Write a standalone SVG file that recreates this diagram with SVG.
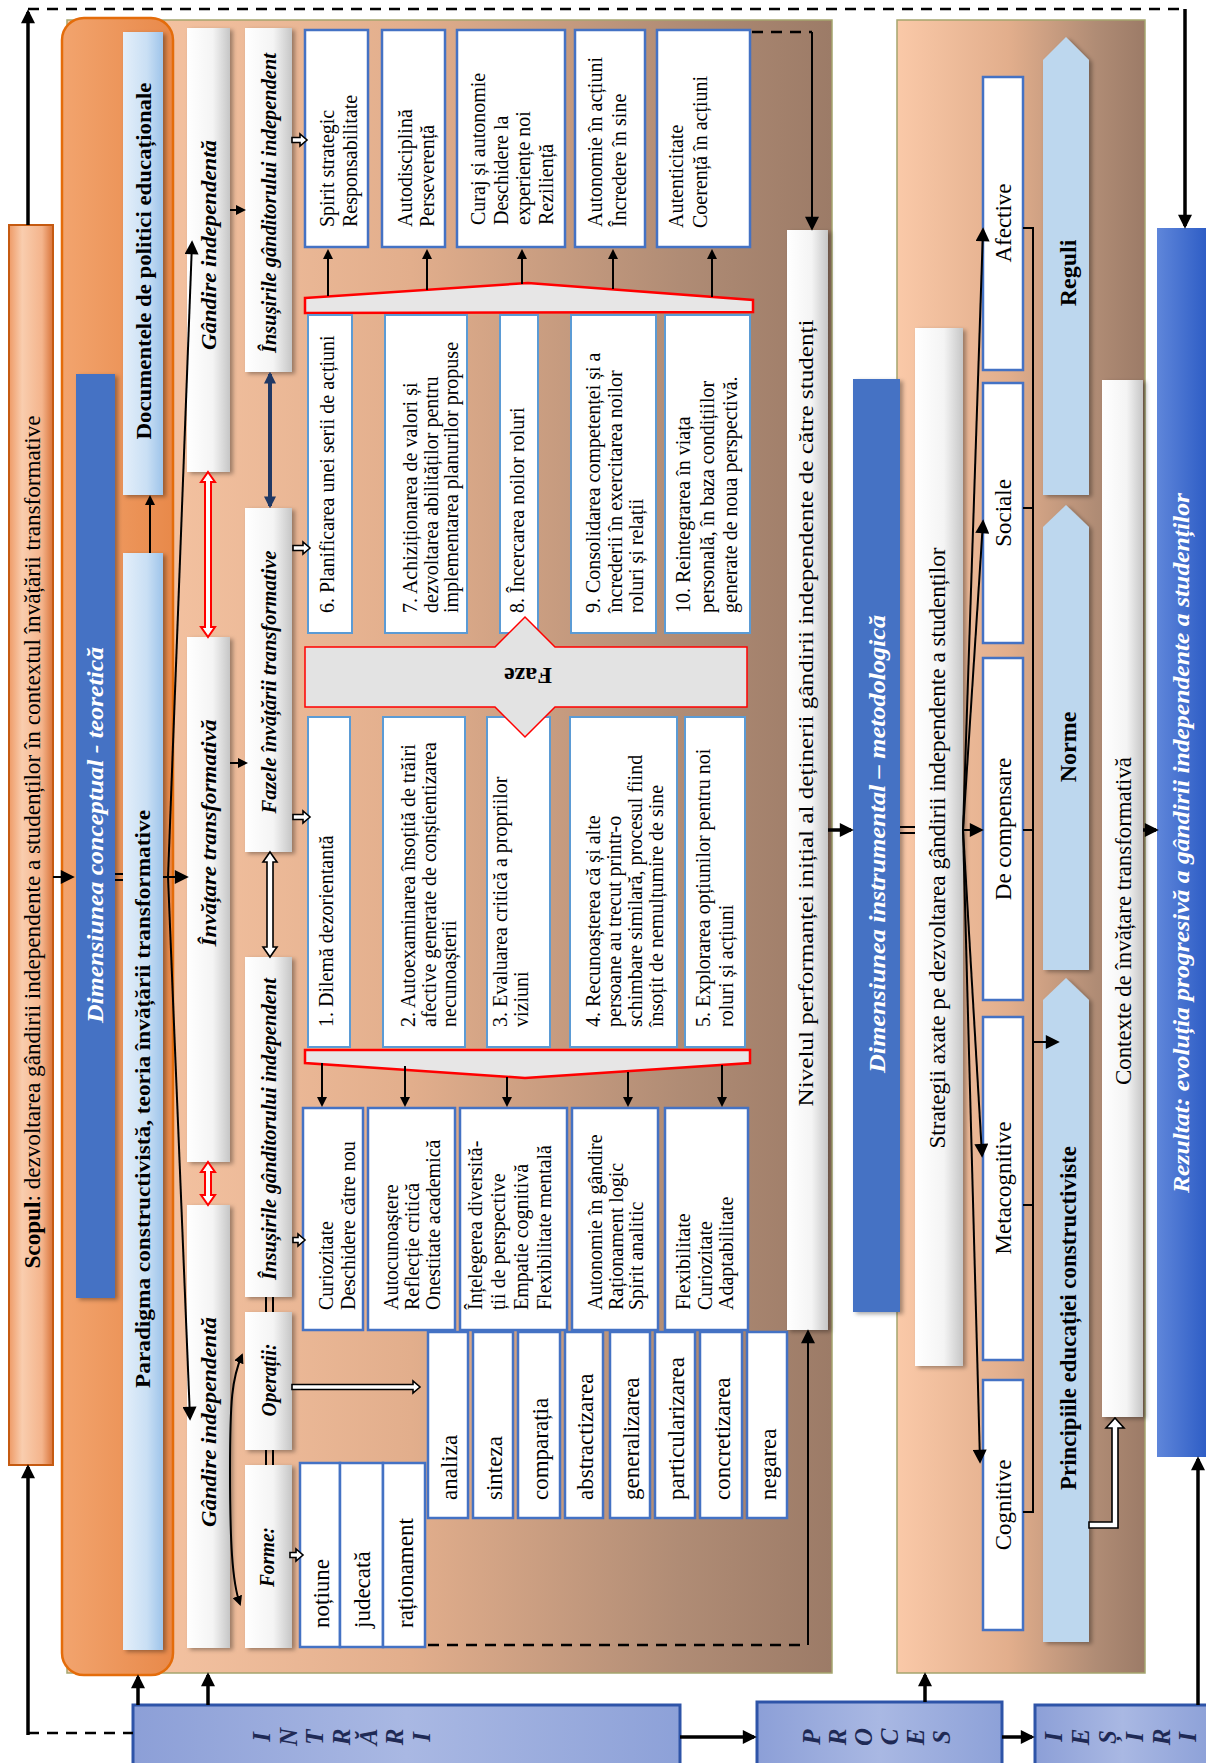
<svg xmlns="http://www.w3.org/2000/svg" width="1206" height="1763" viewBox="0 0 1206 1763">
<style>
.sf{font-family:"Liberation Serif","Times New Roman",serif;fill:#000}
.t20{font-size:20px}
.t22{font-size:22px}
.t23{font-size:23px}
.hb{font-weight:bold;font-style:italic;font-size:20px}
.bd{font-weight:bold}
.wt{fill:#fff;font-weight:bold;font-style:italic}
.io{font-weight:bold;font-style:italic;font-size:25px;fill:#1F2A55}
.ln{stroke:#000;stroke-width:2;fill:none}
.thk{stroke:#000;stroke-width:3.5;fill:none}
.dash{stroke:#000;stroke-width:2.5;stroke-dasharray:11 8;fill:none}
.bx{fill:#fff;stroke:#4472C4;stroke-width:2.5}
.pb{fill:#fff;stroke:#5B9BD5;stroke-width:2}
.wb{fill:url(#gWhite)}
.lb{fill:url(#gLBlue)}
.db{fill:#4472C4}
.rule{fill:#BDD7EE}
.ho{fill:#fff;stroke:#000;stroke-width:1.6}
.rd{fill:#fff;stroke:#FF0000;stroke-width:2}
.tr{fill:#E7E6E6;stroke:#FF0000;stroke-width:2.5}
.iob{fill:url(#gIO);stroke:#2E54A8;stroke-width:3}
</style>
<defs>
<linearGradient id="gPanel" x1="0" y1="0" x2="1" y2="0">
<stop offset="0" stop-color="#FAC9A8"/><stop offset="0.45" stop-color="#E2AE8C"/><stop offset="0.8" stop-color="#B08C75"/><stop offset="1" stop-color="#9C7B67"/>
</linearGradient>
<linearGradient id="gWhite" x1="0" y1="0" x2="1" y2="0">
<stop offset="0" stop-color="#FFFFFF"/><stop offset="0.6" stop-color="#F4F4F4"/><stop offset="1" stop-color="#C6C6C6"/>
</linearGradient>
<linearGradient id="gLBlue" x1="0" y1="0" x2="1" y2="0">
<stop offset="0" stop-color="#E4EFFA"/><stop offset="0.6" stop-color="#C9DFF4"/><stop offset="1" stop-color="#9EC4EA"/>
</linearGradient>
<linearGradient id="gScop" x1="0" y1="0" x2="1" y2="0">
<stop offset="0" stop-color="#EE9A66"/><stop offset="0.3" stop-color="#F9CDAE"/><stop offset="0.75" stop-color="#F4B48C"/><stop offset="1" stop-color="#D9743A"/>
</linearGradient>
<linearGradient id="gOrange" x1="0" y1="0" x2="1" y2="0">
<stop offset="0" stop-color="#F2A46E"/><stop offset="1" stop-color="#E8894A"/>
</linearGradient>
<linearGradient id="gIO" x1="0" y1="0" x2="1" y2="0">
<stop offset="0" stop-color="#8C9FD7"/><stop offset="0.5" stop-color="#A9B8E3"/><stop offset="1" stop-color="#8DA1D8"/>
</linearGradient>
<linearGradient id="gRez" x1="0" y1="0" x2="1" y2="0">
<stop offset="0" stop-color="#5F86DA"/><stop offset="1" stop-color="#2F5EC6"/>
</linearGradient>
<filter id="sh" x="-20%" y="-5%" width="150%" height="110%">
<feDropShadow dx="3" dy="2" stdDeviation="2" flood-color="#000" flood-opacity="0.35"/>
</filter>
<marker id="ma" viewBox="0 0 10 10" refX="8" refY="5" markerWidth="10" markerHeight="10" markerUnits="userSpaceOnUse" orient="auto-start-reverse">
<path d="M0,0 L10,5 L0,10 z" fill="#000"/>
</marker>
<marker id="mb" viewBox="0 0 10 10" refX="8" refY="5" markerWidth="15" markerHeight="14" markerUnits="userSpaceOnUse" orient="auto-start-reverse">
<path d="M0,0 L10,5 L0,10 z" fill="#000"/>
</marker>
<marker id="mn" viewBox="0 0 10 10" refX="8" refY="5" markerWidth="12" markerHeight="12" markerUnits="userSpaceOnUse" orient="auto-start-reverse">
<path d="M0,0 L10,5 L0,10 z" fill="#1F3864"/>
</marker>
</defs>

<rect width="1206" height="1763" fill="#fff"/>

<g id="panel-conceptual">
<rect x="67" y="20" width="765" height="1653" fill="url(#gPanel)" stroke="#A5A56E" stroke-width="1.5"/>
</g>
<g id="panel-instrumental">
<rect x="897" y="20" width="248" height="1653" fill="url(#gPanel)" stroke="#A5A56E" stroke-width="1.5"/>
</g>
<g id="orange-frame">
<rect x="62" y="18" width="111" height="1657" rx="22" fill="url(#gOrange)" stroke="#E46C0A" stroke-width="2.5"/>
</g>

<g id="node-scop">
<rect x="9" y="225" width="44" height="1240" fill="url(#gScop)" stroke="#C55A11" stroke-width="2"/>
<text class="sf t23" transform="translate(40,842) rotate(-90)" text-anchor="middle" textLength="853" lengthAdjust="spacingAndGlyphs"><tspan font-weight="bold">Scopul</tspan>: dezvoltarea gândirii independente a studenților în contextul învățării transformative</text>
</g>

<g id="node-dim-conceptual">
<rect x="76" y="374" width="39" height="924" class="db" filter="url(#sh)"/>
<text class="sf wt" font-size="24" transform="translate(103,835) rotate(-90)" text-anchor="middle" textLength="376" lengthAdjust="spacingAndGlyphs">Dimensiunea conceptual - teoretică</text>
</g>

<g id="node-documente">
<rect x="123" y="32" width="40" height="463" class="lb" filter="url(#sh)"/>
<text class="sf bd t22" transform="translate(151,261) rotate(-90)" text-anchor="middle" textLength="357" lengthAdjust="spacingAndGlyphs">Documentele de politici educaționale</text>
</g>

<g id="node-paradigma">
<rect x="123" y="553" width="40" height="1097" class="lb" filter="url(#sh)"/>
<text class="sf bd t22" transform="translate(150,1099) rotate(-90)" text-anchor="middle" textLength="578" lengthAdjust="spacingAndGlyphs">Paradigma constructivistă,  teoria învățării transformative</text>
</g>

<g id="node-gandire-top">
<rect x="187" y="28" width="43" height="444" class="wb" filter="url(#sh)"/>
<text class="sf hb" transform="translate(216,245) rotate(-90)" text-anchor="middle" textLength="210" lengthAdjust="spacingAndGlyphs">Gândire independentă</text>
</g>
<g id="node-invatare">
<rect x="187" y="637" width="43" height="525" class="wb" filter="url(#sh)"/>
<text class="sf hb" transform="translate(216,833) rotate(-90)" text-anchor="middle" textLength="227" lengthAdjust="spacingAndGlyphs">Învățare transformativă</text>
</g>
<g id="node-gandire-bottom">
<rect x="187" y="1205" width="43" height="443" class="wb" filter="url(#sh)"/>
<text class="sf hb" transform="translate(216,1422) rotate(-90)" text-anchor="middle" textLength="210" lengthAdjust="spacingAndGlyphs">Gândire independentă</text>
</g>

<g id="node-insusiri-top">
<rect x="245" y="28" width="47" height="344" class="wb" filter="url(#sh)"/>
<text class="sf hb" transform="translate(276,203) rotate(-90)" text-anchor="middle" textLength="300" lengthAdjust="spacingAndGlyphs">Însușirile gânditorului independent</text>
</g>
<g id="node-fazele">
<rect x="245" y="508" width="47" height="344" class="wb" filter="url(#sh)"/>
<text class="sf hb" transform="translate(276,682) rotate(-90)" text-anchor="middle" textLength="263" lengthAdjust="spacingAndGlyphs">Fazele învățării transformative</text>
</g>
<g id="node-insusiri-bottom">
<rect x="245" y="957" width="47" height="340" class="wb" filter="url(#sh)"/>
<text class="sf hb" transform="translate(276,1129) rotate(-90)" text-anchor="middle" textLength="302" lengthAdjust="spacingAndGlyphs">Însușirile gânditorului independent</text>
</g>
<g id="node-operatii">
<rect x="245" y="1312" width="47" height="138" class="wb" filter="url(#sh)"/>
<text class="sf hb" transform="translate(276,1380) rotate(-90)" text-anchor="middle" textLength="73" lengthAdjust="spacingAndGlyphs">Operații:</text>
</g>
<g id="node-forme">
<rect x="245" y="1465" width="47" height="183" class="wb" filter="url(#sh)"/>
<text class="sf hb" transform="translate(274,1557) rotate(-90)" text-anchor="middle" textLength="60" lengthAdjust="spacingAndGlyphs">Forme:</text>
</g>

<g id="node-prop-t1"><rect x="305" y="30" width="63" height="217" class="bx"/>
<text class="sf t20" transform="translate(334,227) rotate(-90)"><tspan x="0">Spirit strategic</tspan><tspan x="0" dy="23">Responsabilitate</tspan></text></g>
<g id="node-prop-t2"><rect x="382" y="30" width="63" height="217" class="bx"/>
<text class="sf t20" transform="translate(412,227) rotate(-90)"><tspan x="0">Autodisciplină</tspan><tspan x="0" dy="22">Perseverență</tspan></text></g>
<g id="node-prop-t3"><rect x="457" y="30" width="108" height="217" class="bx"/>
<text class="sf t20" transform="translate(485,225) rotate(-90)"><tspan x="0">Curaj și autonomie</tspan><tspan x="0" dy="22.7">Deschidere la</tspan><tspan x="0" dy="22.7">experiențe noi</tspan><tspan x="0" dy="22.7">Reziliență</tspan></text></g>
<g id="node-prop-t4"><rect x="575" y="30" width="70" height="217" class="bx"/>
<text class="sf t20" transform="translate(602,227) rotate(-90)"><tspan x="0">Autonomie în acțiuni</tspan><tspan x="0" dy="24">Încredere în sine</tspan></text></g>
<g id="node-prop-t5"><rect x="657" y="30" width="93" height="217" class="bx"/>
<text class="sf t20" transform="translate(683,228) rotate(-90)"><tspan x="0">Autenticitate</tspan><tspan x="0" dy="24">Coerență în acțiuni</tspan></text></g>

<g id="node-trap-top"><polygon points="305,298 528,283 753,300 753,312 305,313" class="tr"/></g>

<g id="node-phase6"><rect x="308" y="315" width="44" height="318" class="pb"/>
<text class="sf t20" transform="translate(334,613) rotate(-90)">6. Planificarea unei serii de acțiuni</text></g>
<g id="node-phase7"><rect x="385" y="315" width="82" height="318" class="pb"/>
<text class="sf t20" transform="translate(417,613) rotate(-90)"><tspan x="0">7. Achiziționarea de valori și</tspan><tspan x="0" dy="20.5">dezvoltarea abilităților pentru</tspan><tspan x="0" dy="20.5">implementarea planurilor propuse</tspan></text></g>
<g id="node-phase8"><rect x="500" y="315" width="38" height="318" class="pb"/>
<text class="sf t20" transform="translate(524,613) rotate(-90)">8. Încercarea noilor roluri</text></g>
<g id="node-phase9"><rect x="571" y="315" width="85" height="318" class="pb"/>
<text class="sf t20" transform="translate(600,613) rotate(-90)"><tspan x="0">9. Consolidarea competenței și a</tspan><tspan x="0" dy="21.5">încrederii în exercitarea noilor</tspan><tspan x="0" dy="21.5">roluri și relații</tspan></text></g>
<g id="node-phase10"><rect x="665" y="315" width="85" height="318" class="pb"/>
<text class="sf t20" transform="translate(690,613) rotate(-90)"><tspan x="0">10. Reintegrarea în viața</tspan><tspan x="0" dy="23.5">personală, în baza condițiilor</tspan><tspan x="0" dy="23.5">generate de noua perspectivă.</tspan></text></g>

<g id="node-phase1"><rect x="308" y="717" width="42" height="330" class="pb"/>
<text class="sf t20" transform="translate(333,1027) rotate(-90)">1. Dilemă dezorientantă</text></g>
<g id="node-phase2"><rect x="383" y="717" width="82" height="330" class="pb"/>
<text class="sf t20" transform="translate(415,1027) rotate(-90)"><tspan x="0">2. Autoexaminarea însoțită de trăiri</tspan><tspan x="0" dy="20.5">afective generate de conștientizarea</tspan><tspan x="0" dy="20.5">necunoașterii</tspan></text></g>
<g id="node-phase3"><rect x="487" y="717" width="63" height="330" class="pb"/>
<text class="sf t20" transform="translate(507,1027) rotate(-90)"><tspan x="0">3. Evaluarea critică a propriilor</tspan><tspan x="0" dy="21">viziuni</tspan></text></g>
<g id="node-phase4"><rect x="570" y="717" width="107" height="330" class="pb"/>
<text class="sf t20" transform="translate(600,1027) rotate(-90)"><tspan x="0">4. Recunoașterea că și alte</tspan><tspan x="0" dy="21">persoane au trecut printr-o</tspan><tspan x="0" dy="21">schimbare similară, procesul fiind</tspan><tspan x="0" dy="21">însoțit de nemulțumire de sine</tspan></text></g>
<g id="node-phase5"><rect x="685" y="717" width="60" height="330" class="pb"/>
<text class="sf t20" transform="translate(710,1027) rotate(-90)"><tspan x="0">5. Explorarea opțiunilor pentru noi</tspan><tspan x="0" dy="23">roluri și acțiuni</tspan></text></g>

<g id="node-faze">
<polygon points="305,647 495,647 525,617 555,647 747,647 747,707 555,707 525,737 495,707 305,707" fill="#E3E3E3" stroke="#FF0000" stroke-width="1.5"/>
<text class="sf bd" font-size="24" transform="translate(528,668) rotate(180)" text-anchor="middle">Faze</text>
</g>

<g id="node-trap-bottom"><polygon points="305,1050 750,1050 750,1063 525,1078 305,1063" class="tr"/></g>

<g id="node-prop-b1"><rect x="303" y="1108" width="60" height="222" class="bx"/>
<text class="sf t20" transform="translate(333,1310) rotate(-90)"><tspan x="0">Curiozitate</tspan><tspan x="0" dy="22">Deschidere către nou</tspan></text></g>
<g id="node-prop-b2"><rect x="368" y="1108" width="87" height="222" class="bx"/>
<text class="sf t20" transform="translate(398,1310) rotate(-90)"><tspan x="0">Autocunoaștere</tspan><tspan x="0" dy="21">Reflecție critică</tspan><tspan x="0" dy="21">Onestitate academică</tspan></text></g>
<g id="node-prop-b3"><rect x="460" y="1108" width="107" height="222" class="bx"/>
<text class="sf t20" transform="translate(482,1310) rotate(-90)"><tspan x="0">Înțelegerea diversită-</tspan><tspan x="0" dy="23">ții de perspective</tspan><tspan x="0" dy="23">Empatie cognitivă</tspan><tspan x="0" dy="23">Flexibilitate mentală</tspan></text></g>
<g id="node-prop-b4"><rect x="572" y="1108" width="86" height="222" class="bx"/>
<text class="sf t20" transform="translate(602,1310) rotate(-90)"><tspan x="0">Autonomie în gândire</tspan><tspan x="0" dy="20.5">Raționament logic</tspan><tspan x="0" dy="20.5">Spirit analitic</tspan></text></g>
<g id="node-prop-b5"><rect x="665" y="1108" width="83" height="222" class="bx"/>
<text class="sf t20" transform="translate(690,1310) rotate(-90)"><tspan x="0">Flexibilitate</tspan><tspan x="0" dy="21.5">Curiozitate</tspan><tspan x="0" dy="21.5">Adaptabilitate</tspan></text></g>

<g id="node-operations">
<rect x="428" y="1332" width="40" height="186" class="bx"/>
<rect x="473" y="1332" width="40" height="186" class="bx"/>
<rect x="518" y="1332" width="42" height="186" class="bx"/>
<rect x="565" y="1332" width="38" height="186" class="bx"/>
<rect x="610" y="1332" width="40" height="186" class="bx"/>
<rect x="655" y="1332" width="40" height="186" class="bx"/>
<rect x="700" y="1332" width="42" height="186" class="bx"/>
<rect x="747" y="1332" width="40" height="186" class="bx"/>
<text class="sf t23" transform="translate(457,1500) rotate(-90)">analiza</text>
<text class="sf t23" transform="translate(502,1500) rotate(-90)">sinteza</text>
<text class="sf t23" transform="translate(548,1500) rotate(-90)">comparația</text>
<text class="sf t23" transform="translate(593,1500) rotate(-90)">abstractizarea</text>
<text class="sf t23" transform="translate(639,1500) rotate(-90)">generalizarea</text>
<text class="sf t23" transform="translate(684,1500) rotate(-90)">particularizarea</text>
<text class="sf t23" transform="translate(730,1500) rotate(-90)">concretizarea</text>
<text class="sf t23" transform="translate(776,1500) rotate(-90)">negarea</text>
</g>

<g id="node-forms">
<rect x="300" y="1463" width="40" height="184" class="bx"/>
<rect x="340" y="1463" width="43" height="184" class="bx"/>
<rect x="383" y="1463" width="42" height="184" class="bx"/>
<text class="sf t23" transform="translate(329,1628) rotate(-90)">noțiune</text>
<text class="sf t23" transform="translate(370,1628) rotate(-90)">judecată</text>
<text class="sf t23" transform="translate(413,1628) rotate(-90)">raționament</text>
</g>

<g id="node-nivel">
<rect x="787" y="230" width="41" height="1100" class="wb" filter="url(#sh)"/>
<text class="sf t22" transform="translate(813,713) rotate(-90)" text-anchor="middle" textLength="787" lengthAdjust="spacingAndGlyphs">Nivelul performanței inițial al deținerii gândirii independente de către studenți</text>
</g>

<g id="node-dim-instrumental">
<rect x="853" y="379" width="47" height="933" class="db" filter="url(#sh)"/>
<text class="sf wt" font-size="24" transform="translate(885,844) rotate(-90)" text-anchor="middle" textLength="458" lengthAdjust="spacingAndGlyphs">Dimensiunea  instrumental – metodologică</text>
</g>
<g id="node-strategii">
<rect x="915" y="328" width="48" height="1038" class="wb" filter="url(#sh)"/>
<text class="sf t23" transform="translate(945,848) rotate(-90)" text-anchor="middle" textLength="601" lengthAdjust="spacingAndGlyphs">Strategii  axate pe dezvoltarea gândirii independente a studenților</text>
</g>
<g id="node-afective"><rect x="983" y="77" width="40" height="293" class="bx"/>
<text class="sf t23" transform="translate(1011,223) rotate(-90)" text-anchor="middle">Afective</text></g>
<g id="node-sociale"><rect x="983" y="383" width="40" height="260" class="bx"/>
<text class="sf t23" transform="translate(1011,513) rotate(-90)" text-anchor="middle">Sociale</text></g>
<g id="node-compensare"><rect x="983" y="658" width="40" height="342" class="bx"/>
<text class="sf t23" transform="translate(1011,829) rotate(-90)" text-anchor="middle">De compensare</text></g>
<g id="node-metacognitive"><rect x="983" y="1017" width="40" height="343" class="bx"/>
<text class="sf t23" transform="translate(1011,1188) rotate(-90)" text-anchor="middle">Metacognitive</text></g>
<g id="node-cognitive"><rect x="983" y="1380" width="40" height="250" class="bx"/>
<text class="sf t23" transform="translate(1011,1505) rotate(-90)" text-anchor="middle">Cognitive</text></g>

<g id="node-reguli">
<polygon points="1043,60 1066,37 1089,60 1089,495 1043,495" class="rule" filter="url(#sh)"/>
<text class="sf bd" font-size="24" transform="translate(1076,273) rotate(-90)" text-anchor="middle">Reguli</text>
</g>
<g id="node-norme">
<polygon points="1043,527 1066,505 1089,527 1089,970 1043,970" class="rule" filter="url(#sh)"/>
<text class="sf bd" font-size="24" transform="translate(1076,747) rotate(-90)" text-anchor="middle">Norme</text>
</g>
<g id="node-principii">
<polygon points="1043,1000 1066,978 1089,1000 1089,1642 1043,1642" class="rule" filter="url(#sh)"/>
<text class="sf bd t23" transform="translate(1076,1318) rotate(-90)" text-anchor="middle" textLength="344" lengthAdjust="spacingAndGlyphs">Principiile educației constructiviste</text>
</g>
<g id="node-contexte">
<rect x="1102" y="380" width="41" height="1037" class="wb" filter="url(#sh)"/>
<text class="sf t23" transform="translate(1131,921) rotate(-90)" text-anchor="middle" textLength="328" lengthAdjust="spacingAndGlyphs">Contexte de învățare transformativă</text>
</g>
<g id="node-rezultat">
<rect x="1157" y="228" width="49" height="1229" fill="url(#gRez)"/>
<text class="sf wt t23" transform="translate(1189,843) rotate(-90)" text-anchor="middle" textLength="700" lengthAdjust="spacingAndGlyphs">Rezultat: evoluția progresivă a gândirii independente a studenților</text>
</g>

<g id="node-intrari">
<rect x="133" y="1705" width="547" height="62" class="iob"/>
<text class="sf io" transform="translate(270,1737) rotate(-90)" text-anchor="middle">I</text>
<text class="sf io" transform="translate(297,1737) rotate(-90)" text-anchor="middle">N</text>
<text class="sf io" transform="translate(323,1737) rotate(-90)" text-anchor="middle">T</text>
<text class="sf io" transform="translate(350,1737) rotate(-90)" text-anchor="middle">R</text>
<text class="sf io" transform="translate(377,1737) rotate(-90)" text-anchor="middle">Ă</text>
<text class="sf io" transform="translate(403,1737) rotate(-90)" text-anchor="middle">R</text>
<text class="sf io" transform="translate(430,1737) rotate(-90)" text-anchor="middle">I</text>
</g>
<g id="node-proces">
<rect x="757" y="1702" width="245" height="65" class="iob"/>
<text class="sf io" transform="translate(820,1737) rotate(-90)" text-anchor="middle">P</text>
<text class="sf io" transform="translate(846,1737) rotate(-90)" text-anchor="middle">R</text>
<text class="sf io" transform="translate(872,1737) rotate(-90)" text-anchor="middle">O</text>
<text class="sf io" transform="translate(898,1737) rotate(-90)" text-anchor="middle">C</text>
<text class="sf io" transform="translate(924,1737) rotate(-90)" text-anchor="middle">E</text>
<text class="sf io" transform="translate(950,1737) rotate(-90)" text-anchor="middle">S</text>
</g>
<g id="node-iesiri">
<rect x="1035" y="1705" width="175" height="62" class="iob"/>
<text class="sf io" transform="translate(1062,1737) rotate(-90)" text-anchor="middle">I</text>
<text class="sf io" transform="translate(1089,1737) rotate(-90)" text-anchor="middle">E</text>
<text class="sf io" transform="translate(1116,1737) rotate(-90)" text-anchor="middle">Ș</text>
<text class="sf io" transform="translate(1143,1737) rotate(-90)" text-anchor="middle">I</text>
<text class="sf io" transform="translate(1170,1737) rotate(-90)" text-anchor="middle">R</text>
<text class="sf io" transform="translate(1196,1737) rotate(-90)" text-anchor="middle">I</text>
</g>

<g id="connectors">
<line x1="28" y1="225" x2="28" y2="12" class="thk" marker-end="url(#mb)"/>
<path d="M28,9 H1185" class="dash"/>
<line x1="1185" y1="9" x2="1185" y2="226" class="thk" marker-end="url(#mb)"/>
<line x1="28" y1="1735" x2="28" y2="1467" class="thk" marker-end="url(#mb)"/>
<path d="M28,1733 H133" class="dash"/>
<line x1="138" y1="1705" x2="138" y2="1677" class="thk" stroke-width="5" marker-end="url(#mb)"/>
<line x1="208" y1="1705" x2="208" y2="1675" class="thk" stroke-width="5" marker-end="url(#mb)"/>
<line x1="680" y1="1737" x2="754" y2="1737" class="thk" stroke-width="4" marker-end="url(#mb)"/>
<line x1="1002" y1="1737" x2="1032" y2="1737" class="thk" stroke-width="5" marker-end="url(#mb)"/>
<line x1="925" y1="1702" x2="925" y2="1675" class="thk" stroke-width="5" marker-end="url(#mb)"/>
<line x1="1198" y1="1705" x2="1198" y2="1459" class="thk" marker-end="url(#mb)"/>
<path d="M752,32 H812" class="dash"/>
<line x1="812" y1="32" x2="812" y2="228" class="ln" stroke-width="2.5" marker-end="url(#mb)"/>
<path d="M428,1645 H808" class="dash"/>
<line x1="808" y1="1645" x2="808" y2="1332" class="ln" stroke-width="2.5" marker-end="url(#mb)"/>
<line x1="53" y1="877" x2="72" y2="877" class="ln" stroke-width="2.5" marker-end="url(#mb)"/>
<line x1="115" y1="874" x2="123" y2="874" class="ln" stroke-width="1.8"/>
<line x1="115" y1="880" x2="123" y2="880" class="ln" stroke-width="1.8"/>
<line x1="150" y1="553" x2="150" y2="497" class="ln" stroke-width="1.5" marker-end="url(#ma)"/>
<line x1="163" y1="877" x2="186" y2="877" class="ln" stroke-width="2.5" marker-end="url(#mb)"/>
<path d="M168,877 L192,243" class="ln" marker-end="url(#mb)"/>
<path d="M168,877 L190,1418" class="ln" marker-end="url(#mb)"/>
<line x1="230" y1="210" x2="244" y2="210" class="ln" stroke-width="2.5" marker-end="url(#ma)"/>
<line x1="230" y1="763" x2="246" y2="763" class="ln" stroke-width="2.5" marker-end="url(#ma)"/>
<path d="M230,1470 C230,1400 232,1378 242,1355" class="ln" marker-end="url(#ma)"/>
<path d="M230,1470 C230,1540 232,1582 240,1604" class="ln" marker-end="url(#ma)"/>
<polygon points="208,472 215,482 211,482 211,627 215,627 208,637 201,627 205,627 205,482 201,482" class="rd"/>
<polygon points="208,1162 215,1172 211,1172 211,1195 215,1195 208,1205 201,1195 205,1195 205,1172 201,1172" class="rd"/>
<line x1="270" y1="374" x2="270" y2="506" stroke="#1F3864" stroke-width="4" marker-start="url(#mn)" marker-end="url(#mn)"/>
<polygon points="270,852 277,862 273,862 273,947 277,947 270,957 263,947 267,947 267,862 263,862" class="ho" stroke-width="2"/>
<line x1="266" y1="1297" x2="266" y2="1312" class="ln" stroke-width="2"/>
<line x1="273" y1="1297" x2="273" y2="1312" class="ln" stroke-width="2"/>
<line x1="266" y1="1450" x2="266" y2="1465" class="ln" stroke-width="2"/>
<line x1="273" y1="1450" x2="273" y2="1465" class="ln" stroke-width="2"/>
<polygon points="292,137.5 300,137.5 300,134 307,140 300,146 300,142.5 292,142.5" class="ho"/>
<polygon points="293,545.5 303,545.5 303,542 310,548 303,554 303,550.5 293,550.5" class="ho"/>
<polygon points="293,814.5 303,814.5 303,811 310,817 303,823 303,819.5 293,819.5" class="ho"/>
<polygon points="293,1237.5 298,1237.5 298,1234 305,1240 298,1246 298,1242.5 293,1242.5" class="ho"/>
<polygon points="290,1552.5 296,1552.5 296,1549 303,1555 296,1561 296,1557.5 290,1557.5" class="ho"/>
<polygon points="292,1384.5 413,1384.5 413,1381 420,1387 413,1393 413,1389.5 292,1389.5" class="ho"/>
<line x1="328" y1="296" x2="328" y2="251" class="ln" marker-end="url(#ma)"/>
<line x1="427" y1="290" x2="427" y2="251" class="ln" marker-end="url(#ma)"/>
<line x1="522" y1="284" x2="522" y2="251" class="ln" marker-end="url(#ma)"/>
<line x1="613" y1="289" x2="613" y2="251" class="ln" marker-end="url(#ma)"/>
<line x1="712" y1="297" x2="712" y2="251" class="ln" marker-end="url(#ma)"/>
<line x1="322" y1="1063" x2="322" y2="1105" class="ln" marker-end="url(#ma)"/>
<line x1="405" y1="1066" x2="405" y2="1105" class="ln" marker-end="url(#ma)"/>
<line x1="507" y1="1077" x2="507" y2="1105" class="ln" marker-end="url(#ma)"/>
<line x1="628" y1="1072" x2="628" y2="1105" class="ln" marker-end="url(#ma)"/>
<line x1="722" y1="1065" x2="722" y2="1105" class="ln" marker-end="url(#ma)"/>
<line x1="828" y1="830" x2="851" y2="830" class="thk" marker-end="url(#mb)"/>
<line x1="900" y1="827" x2="915" y2="827" class="ln" stroke-width="1.8"/>
<line x1="900" y1="833" x2="915" y2="833" class="ln" stroke-width="1.8"/>
<line x1="963" y1="830" x2="981" y2="830" class="ln" stroke-width="2.5" marker-end="url(#mb)"/>
<line x1="963" y1="830" x2="983" y2="230" class="ln" marker-end="url(#mb)"/>
<line x1="963" y1="830" x2="983" y2="522" class="ln" marker-end="url(#mb)"/>
<line x1="963" y1="830" x2="982" y2="1155" class="ln" marker-end="url(#mb)"/>
<line x1="963" y1="830" x2="980" y2="1461" class="ln" marker-end="url(#mb)"/>
<path d="M1023,228 H1033 V1512 H1023" class="ln"/>
<line x1="1023" y1="508" x2="1033" y2="508" class="ln"/>
<line x1="1023" y1="830" x2="1033" y2="830" class="ln"/>
<line x1="1023" y1="1205" x2="1033" y2="1205" class="ln"/>
<line x1="1033" y1="1042" x2="1057" y2="1042" class="ln" stroke-width="3" marker-end="url(#mb)"/>
<polygon points="1089,1522 1112,1522 1112,1428 1106,1428 1115,1418 1124,1428 1118,1428 1118,1528 1089,1528" class="ho" stroke-width="2"/>
<line x1="1143" y1="830" x2="1156" y2="830" class="thk" marker-end="url(#mb)"/>
</g>
</svg>
